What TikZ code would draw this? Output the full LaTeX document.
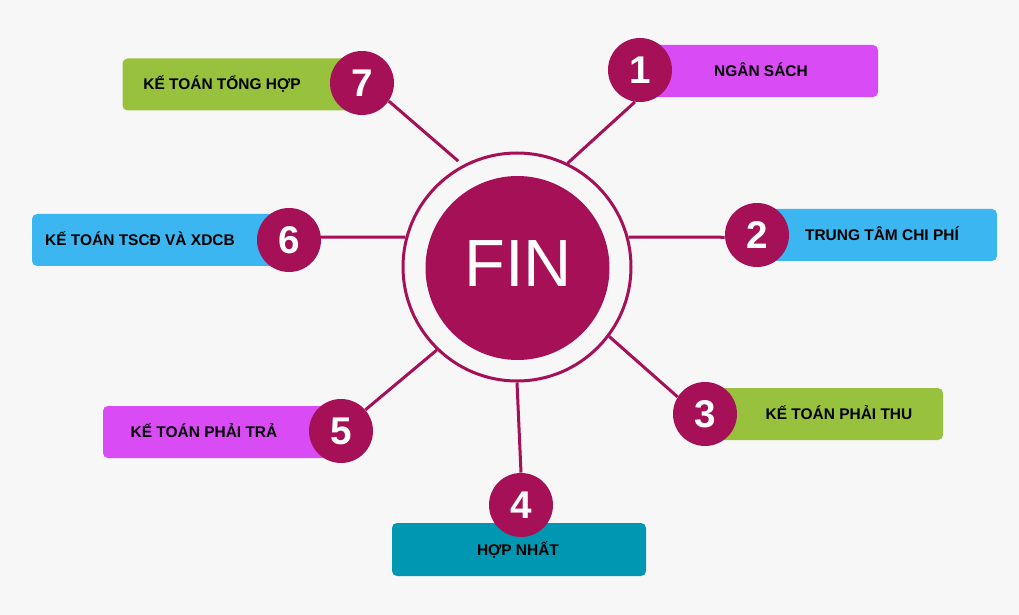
\documentclass[tikz,border=0pt]{standalone}
\usepackage{fontspec}
\setmainfont{Liberation Sans}
\definecolor{bg}{HTML}{F7F7F7}
\definecolor{berry}{HTML}{A51057}
\definecolor{grn}{HTML}{98C13D}
\definecolor{pur}{HTML}{D94BF5}
\definecolor{sky}{HTML}{3BB6F0}
\definecolor{teal}{HTML}{0097B2}
\begin{document}
\begin{tikzpicture}[x=0.02cm,y=-0.02cm]
% one pixel of the picture
\def\px{0.02cm}
% node style definition
\tikzstyle{block} = [
	rectangle, rounded corners=5*\px, inner sep=0pt,
	minimum height=52*\px, minimum width=238*\px ];
\tikzstyle{plain} = [draw=none, fill=none, anchor=base, inner sep=0pt,
	font=\fontsize{8.8}{10}\selectfont\bfseries];
\tikzstyle{num} = [circle, fill=berry, text=white, inner sep=0pt,
	minimum size=64*\px, font=\fontsize{22}{24}\selectfont\bfseries];
\tikzstyle{link} = [draw=berry, line width=3*\px];
% background
\fill[bg] (0,0) rectangle (1019,615);
\useasboundingbox (0,0) rectangle (1019,615);

% boxes
\node[block, fill=grn, minimum width=239*\px] (b7) at (242,84.5) {};
\node[block, fill=pur] (b1) at (759,71) {};
\node[block, fill=sky, minimum width=257*\px] (b6) at (160.5,240) {};
\node[block, fill=sky, minimum width=240*\px] (b2) at (877,235) {};
\node[block, fill=pur] (b5) at (222,432) {};
\node[block, fill=grn] (b3) at (824,414) {};
\node[block, fill=teal, minimum width=254*\px, minimum height=53*\px] (b4) at (519,549.5) {};

% box texts
\node[plain] (t7) at (222,89.5) {KẾ TOÁN TỔNG HỢP};
\node[plain] (t1) at (761,76.5) {NGÂN SÁCH};
\node[plain] (t6) at (140,245.5) {KẾ TOÁN TSCĐ VÀ XDCB};
\node[plain] (t2) at (882,240.5) {TRUNG TÂM CHI PHÍ};
\node[plain] (t5) at (204,437.5) {KẾ TOÁN PHẢI TRẢ};
\node[plain] (t3) at (839,419.5) {KẾ TOÁN PHẢI THU};
\node[plain] (t4) at (518,555.5) {HỢP NHẤT};

% centre
\node[circle, draw=berry, line width=3*\px, minimum size=228*\px] (hub) at (517,267) {};
\node[circle, fill=berry, minimum size=184*\px] (core) at (517.5,268) {};
\node[anchor=base, inner sep=0pt, text=white, font=\fontsize{38}{40}\selectfont] (fin) at (518,287) {FIN};

% numbers
\node[num] (n7) at (362,83) {7};
\node[num] (n1) at (640,70) {1};
\node[num] (n6) at (289,240) {6};
\node[num] (n2) at (757,235) {2};
\node[num] (n5) at (341,431) {5};
\node[num] (n3) at (705,414) {3};
\node[num] (n4) at (521,505) {4};

% connectors
\draw[link, shorten <=6*\px] (hub.118) -- (n7.-34);
\draw[link] (hub.64) -- (n1.-99);
\draw[link] (hub.165) -- (n6.5);
\draw[link] (hub.15) -- (n2.184);
\draw[link] (hub.-134) -- (n5.41);
\draw[link] (hub.-37) -- (n3.148);
\draw[link] (hub.-90) -- (n4.north);
\end{tikzpicture}
\end{document}
